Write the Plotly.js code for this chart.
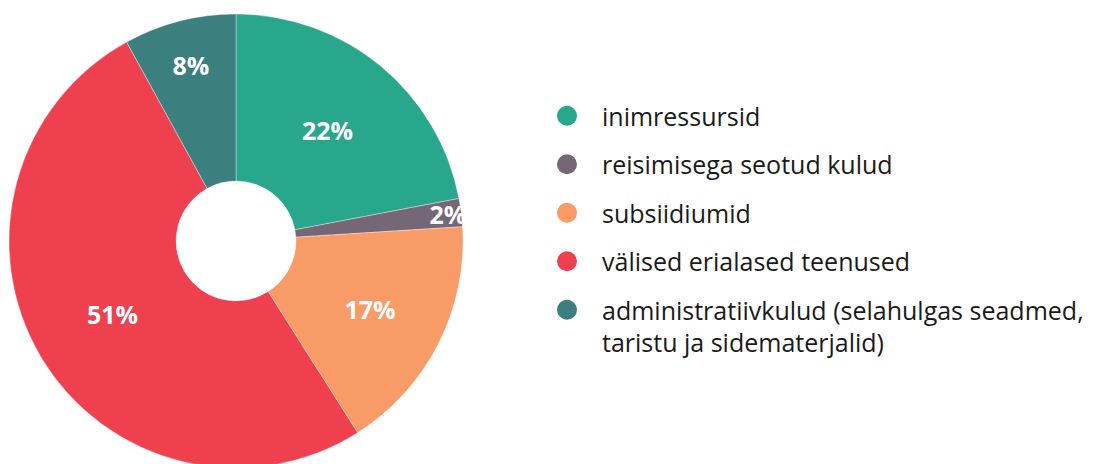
<!DOCTYPE html>
<html>
<head>
<meta charset="utf-8">
<script src="https://cdn.plot.ly/plotly-3.0.1.min.js"></script>
<style>
html,body{margin:0;padding:0;overflow:hidden;background:#fff;}
#chart{width:1119px;height:470px;}
</style>
</head>
<body>
<div id="chart"></div>
<script>
const categories = [
  "inimressursid",
  "reisimisega seotud kulud",
  "subsiidiumid",
  "välised erialased teenused",
  "administratiivkulud (selahulgas seadmed,<br>taristu ja sidematerjalid)"
];
const values = [22, 2, 17, 51, 8];
const colors = ["#28a78d", "#756775", "#f89b66", "#ef404f", "#3b7f7e"];

const W = 1119, H = 470;
const cx = 236, cy = 241, r = 227;

const pie = {
  type: "pie",
  values: values,
  labels: categories,
  sort: false,
  direction: "clockwise",
  rotation: 0,
  hole: 0.264,
  marker: {colors: colors, line: {color: "rgba(255,255,255,0.6)", width: 0.6}},
  textinfo: "percent",
  textposition: "inside",
  insidetextorientation: "horizontal",
  textfont: {family: "Open Sans, sans-serif", size: 25, color: "#ffffff", weight: 700},
  showlegend: false,
  hoverinfo: "label+percent",
  domain: {
    x: [(cx - r) / W, (cx + r) / W],
    y: [(H - (cy + r)) / H, (H - (cy - r)) / H]
  }
};

const legendTraces = categories.map((c, i) => ({
  type: "scatter",
  mode: "markers",
  x: [0], y: [0],
  name: c,
  legendgroup: "g" + i,
  marker: {color: colors[i], size: 16, symbol: "circle", line: {color: colors[i], width: 4}},
  showlegend: true,
  hoverinfo: "skip"
}));

const layout = {
  width: W, height: H,
  margin: {l: 0, r: 0, t: 0, b: 0},
  paper_bgcolor: "#ffffff",
  plot_bgcolor: "rgba(0,0,0,0)",
  xaxis: {visible: false, domain: [0.99, 1], range: [10, 11]},
  yaxis: {visible: false, domain: [0.99, 1], range: [10, 11]},
  showlegend: true,
  uniformtext: {minsize: 25, mode: "show"},
  legend: {
    x: 532 / W, xanchor: "left",
    y: 1 - 93 / H, yanchor: "top",
    font: {family: "Open Sans, sans-serif", size: 25, color: "#1a1a1a"},
    tracegroupgap: 13,
    itemwidth: 60,
    valign: "top",
    bgcolor: "rgba(0,0,0,0)"
  }
};

Plotly.newPlot("chart", [pie].concat(legendTraces), layout, {displayModeBar: false, staticPlot: true});
</script>
</body>
</html>
